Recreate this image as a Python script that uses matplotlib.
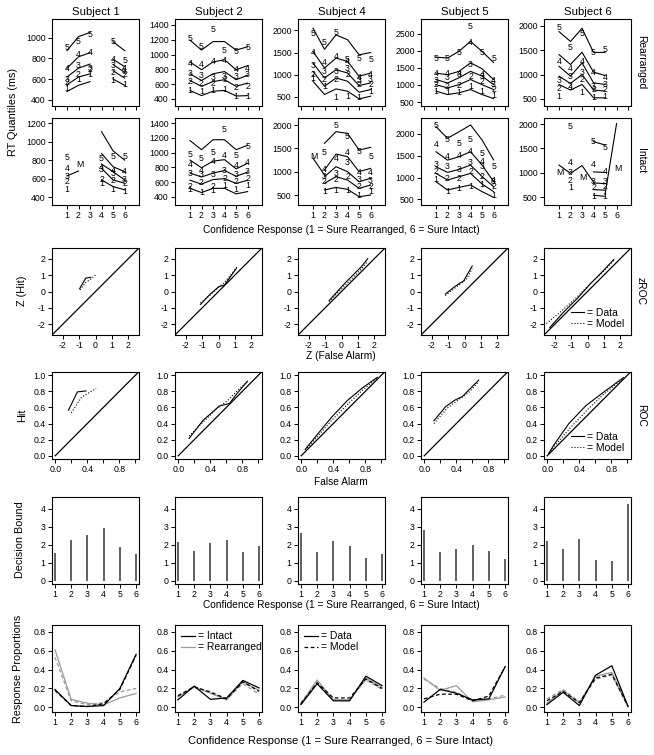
import numpy as np
import matplotlib.pyplot as plt
from matplotlib.lines import Line2D

plt.rcParams['font.family'] = ['Liberation Sans', 'DejaVu Sans']
plt.rcParams['axes.unicode_minus'] = False

nan = np.nan
subjects = ['Subject 1', 'Subject 2', 'Subject 4', 'Subject 5', 'Subject 6']
responses = [1, 2, 3, 4, 5, 6]

# RT quantiles (ms): rows = quantile 1..5, columns = confidence response 1..6
s1_rear_model = [[480, 540, 575, nan, 600, 540], [545, 620, 650, nan, 680, 610],
                 [620, 705, 745, nan, 740, 665], [705, 815, 855, nan, 790, 720],
                 [875, 1010, 1050, nan, 960, 875]]
s1_rear_data = [[510, 595, 640, nan, 583, 545], [570, 640, 690, nan, 663, 640],
                [600, 730, 705, nan, 727, 673], [705, 840, 855, nan, 791, 705],
                [905, 965, 1030, nan, 958, 775]]
s1_int_model = [[nan, nan, nan, 586, 514, 479], [nan, nan, nan, 711, 586, 550],
                [nan, nan, nan, 757, 675, 586], [nan, nan, nan, 871, 729, 675],
                [nan, nan, nan, 1107, 900, 800]]
s1_int_data = [[479, nan, nan, 550, 486, 461], [568, nan, nan, 590, 579, 550],
               [620, nan, nan, 700, 657, 586], [711, nan, nan, 715, 693, 675],
               [829, nan, nan, 818, 836, 836]]

s2_rear_model = [[515, 445, 505, 515, 440, 445], [650, 570, 635, 660, 570, 615],
                 [740, 650, 740, 770, 660, 720], [900, 795, 900, 930, 795, 850],
                 [1195, 1060, 1175, 1175, 1060, 1105]]
s2_rear_data = [[515, 500, 515, 525, 440, 440], [640, 605, 612, 660, 550, 570],
                [745, 720, 695, 705, 705, 730], [885, 868, 905, 923, 800, 818],
                [1213, 1110, 1332, 1060, 1036, 1100]]
s2_int_model = [[516, 459, 516, 516, 441, 472], [626, 573, 635, 648, 582, 626],
                [723, 670, 723, 758, 680, 736], [900, 795, 885, 905, 780, 855],
                [1165, 1040, 1175, 1175, 1040, 1100]]
s2_int_data = [[494, 459, 481, 560, 494, 560], [547, 591, 547, 650, 604, 648],
               [720, 700, 700, 760, 700, 740], [835, 760, 880, 960, 820, 860],
               [980, 915, 1000, 1310, 960, 1090]]

s4_rear_model = [[850, 550, 677, 625, 452, 512], [1075, 737, 925, 850, 602, 662],
                 [1262, 925, 1112, 1037, 752, 812], [1525, 1150, 1375, 1300, 962, 1037],
                 [2052, 1575, 1900, 1790, 1450, 1500]]
s4_rear_data = [[905, 737, 475, 500, 475, 625], [1000, 887, 887, 1000, 775, 775],
                [1200, 1075, 1075, 1150, 870, 887], [1510, 1285, 1400, 1300, 925, 1000],
                [1925, 1725, 1955, 1350, 1375, 1350]]
s4_int_model = [[nan, 607, 664, 621, 464, 500], [nan, 750, 893, 821, 643, 714],
                [nan, 893, 1107, 1000, 785, 857], [nan, 1035, 1378, 1321, 1000, 1071],
                [nan, 1607, 1857, 1821, 1464, 1521]]
s4_int_data = [[nan, 571, 607, 607, 500, 571], [nan, 786, 843, 893, 693, 679],
               [nan, 907, 964, 1200, 843, 821], [nan, 1050, 1285, 1407, 986, 986],
               [nan, 1414, 1986, 1764, 1429, 1321]]

s5_rear_model = [[820, 720, 770, 865, 720, 600], [1010, 915, 1010, 1160, 1010, 865],
                 [1160, 1060, 1210, 1400, 1260, 1010], [1350, 1300, 1400, 1650, 1475, 1160],
                 [1820, 1790, 1990, 2280, 1985, 1660]]
s5_rear_data = [[820, 770, 770, 965, 820, 690], [1010, 965, 985, 1260, 1110, 865],
                [1140, 1210, 1300, 1600, 1260, 1010], [1350, 1350, 1350, 2260, 1300, 1130],
                [1790, 1790, 1940, 2730, 1940, 1765]]
s5_int_model = [[905, 714, 775, 829, 676, 546], [1095, 943, 1019, 1095, 851, 676],
                [1248, 1118, 1187, 1286, 1023, 790], [1592, 1400, 1477, 1592, 1286, 905],
                [2168, 1900, 2050, 2206, 1862, 1404]]
s5_int_data = [[947, 676, 752, 790, 829, 584], [1138, 985, 985, 1138, 1023, 790],
               [1290, 1248, 1187, 1339, 1248, 905], [1748, 1477, 1515, 1592, 1362, 943],
               [2183, 1878, 1786, 1862, 1553, 1248]]

s6_rear_model = [[795, 680, 795, 520, 520, nan], [966, 816, 1000, 680, 660, nan],
                 [1170, 966, 1239, 830, 795, nan], [1411, 1207, 1459, 1050, 980, nan],
                 [1884, 1680, 1952, 1455, 1455, nan]]
s6_rear_data = [[541, 725, 630, 520, 541, nan], [705, 770, 898, 693, 693, nan],
                [884, 966, 1034, 748, 795, nan], [1275, 1116, 1275, 1034, 932, nan],
                [1973, 1565, 1850, 1455, 1523, nan]]
s6_int_model = [[nan, nan, nan, 542, 520, nan], [nan, nan, nan, 658, 645, nan],
                [nan, nan, nan, 795, 780, nan], [nan, nan, nan, 1020, 1010, nan],
                [nan, nan, nan, 1640, 1570, nan]]
s6_int_data = [[nan, 700, nan, 520, 509, nan], [nan, 850, nan, 700, 714, nan],
               [nan, 1000, nan, 830, 816, nan], [nan, 1205, nan, 1170, 1020, nan],
               [nan, 1945, nan, 1640, 1520, nan]]

# medians ("M") for sparse intact responses, and the model median lines
no_med = [nan] * 6
s1_int_med_data = [nan, 757, nan, nan, nan, nan]
s1_int_med_model = [629, 682, nan, nan, nan, nan]
s4_int_med_data = [1320, nan, nan, nan, nan, nan]
s4_int_med_model = [1290, 930, nan, nan, nan, nan]
s6_int_med_data = [1000, nan, 900, nan, nan, 1090]
s6_int_med_model = [1160, 990, 1150, 810, nan, nan]
s6_int_med_tail = [nan, nan, nan, nan, 560, 2010]

rear_model = [s1_rear_model, s2_rear_model, s4_rear_model, s5_rear_model, s6_rear_model]
rear_data = [s1_rear_data, s2_rear_data, s4_rear_data, s5_rear_data, s6_rear_data]
int_model = [s1_int_model, s2_int_model, s4_int_model, s5_int_model, s6_int_model]
int_data = [s1_int_data, s2_int_data, s4_int_data, s5_int_data, s6_int_data]
int_med_data = [s1_int_med_data, no_med, s4_int_med_data, no_med, s6_int_med_data]
int_med_model = [s1_int_med_model, no_med, s4_int_med_model, no_med, s6_int_med_model]
int_med_tail = [no_med, no_med, no_med, no_med, s6_int_med_tail]

rear_ylim = [(340, 1180), (305, 1480), (290, 2260), (383, 2937), (352, 2143)]
int_ylim = [(315, 1255), (290, 1470), (286, 2150), (370, 2366), (343, 2123)]
rear_yticks = [[400, 600, 800, 1000], [400, 600, 800, 1000, 1200, 1400],
               [500, 1000, 1500, 2000], [500, 1000, 1500, 2000, 2500], [500, 1000, 1500, 2000]]
int_yticks = [[400, 600, 800, 1000, 1200], [400, 600, 800, 1000, 1200, 1400],
              [500, 1000, 1500, 2000], [500, 1000, 1500, 2000], [500, 1000, 1500, 2000]]

# zROC and ROC points
zroc_fa_data = [[-0.97, -0.59, -0.29], [-1.1, -0.5, 0.03, 0.36, 0.61, 1.08],
                [-0.75, -0.3, 0.2, 0.7, 1.2, 1.6], [-1.17, -0.62, -0.3, -0.07, 0.47],
                [-2.3, -1.5, -0.6, 0.2, 0.9, 1.6]]
zroc_hit_data = [[0.17, 0.82, 0.86], [-0.79, -0.15, 0.3, 0.39, 0.74, 1.4],
                 [-0.55, -0.05, 0.5, 1.0, 1.5, 2.0], [-0.16, 0.28, 0.5, 0.62, 1.55],
                 [-2.2, -1.3, -0.4, 0.5, 1.2, 1.95]]
zroc_fa_model = [[-0.94, -0.6, -0.3, 0.0], [-1.1, -0.55, -0.03, 0.31, 0.64, 1.17],
                 [-0.75, -0.3, 0.2, 0.7, 1.2, 1.6], [-1.17, -0.56, -0.18, 0.13, 0.47],
                 [-2.5, -1.6, -0.7, 0.1, 0.9, 1.65]]
zroc_hit_model = [[0.1, 0.55, 0.75, 1.0], [-0.69, -0.25, 0.23, 0.5, 0.88, 1.55],
                  [-0.62, -0.14, 0.36, 0.86, 1.36, 1.85], [-0.25, 0.23, 0.52, 0.77, 1.4],
                  [-1.95, -1.2, -0.4, 0.4, 1.15, 1.95]]
roc_fa_data = [[0.165, 0.277, 0.385], [0.136, 0.31, 0.51, 0.64, 0.73, 0.86],
               [0.05, 0.23, 0.38, 0.58, 0.76, 0.95], [0.121, 0.266, 0.38, 0.473, 0.68],
               [0.02, 0.08, 0.27, 0.48, 0.69, 0.95]]
roc_hit_data = [[0.566, 0.793, 0.805], [0.215, 0.44, 0.616, 0.65, 0.77, 0.92],
                [0.08, 0.3, 0.48, 0.69, 0.84, 0.975], [0.435, 0.609, 0.69, 0.733, 0.94],
                [0.03, 0.13, 0.40, 0.62, 0.78, 0.97]]
roc_fa_model = [[0.2, 0.33, 0.51], [0.136, 0.29, 0.49, 0.62, 0.74, 0.88],
                [0.05, 0.23, 0.38, 0.58, 0.76, 0.95], [0.121, 0.286, 0.43, 0.55, 0.68],
                [0.02, 0.09, 0.29, 0.5, 0.7, 0.95]]
roc_hit_model = [[0.533, 0.73, 0.835], [0.244, 0.40, 0.59, 0.69, 0.81, 0.94],
                 [0.07, 0.27, 0.44, 0.64, 0.81, 0.965], [0.40, 0.59, 0.70, 0.78, 0.92],
                 [0.03, 0.12, 0.35, 0.57, 0.76, 0.96]]

# decision bounds per confidence response
bounds = [[1.55, 2.25, 2.55, 2.9, 1.9, 1.5],
          [2.15, 1.65, 2.1, 2.25, 1.58, 1.95],
          [2.65, 1.6, 2.2, 1.95, 1.25, 1.5],
          [2.8, 1.62, 1.77, 2.0, 1.65, 1.22],
          [2.23, 1.77, 2.33, 1.17, 1.08, 4.25]]

# response proportions
rp_int_data = [[0.19, 0.02, 0.01, 0.02, 0.2, 0.56], [0.08, 0.226, 0.086, 0.10, 0.285, 0.206],
               [0.03, 0.25, 0.07, 0.07, 0.33, 0.23], [0.055, 0.19, 0.15, 0.08, 0.09, 0.43],
               [0.03, 0.16, 0.02, 0.34, 0.44, 0.01]]
rp_int_model = [[0.18, 0.02, 0.01, 0.04, 0.19, 0.55], [0.12, 0.22, 0.16, 0.09, 0.27, 0.17],
                [0.04, 0.26, 0.10, 0.10, 0.30, 0.20], [0.09, 0.14, 0.14, 0.07, 0.12, 0.43],
                [0.07, 0.17, 0.05, 0.31, 0.35, 0.01]]
rp_rear_data = [[0.61, 0.086, 0.045, 0.027, 0.10, 0.148], [0.11, 0.216, 0.15, 0.08, 0.27, 0.18],
                [0.04, 0.29, 0.08, 0.08, 0.31, 0.21], [0.31, 0.18, 0.23, 0.06, 0.08, 0.11],
                [0.045, 0.18, 0.05, 0.33, 0.37, 0.01]]
rp_rear_model = [[0.53, 0.07, 0.03, 0.05, 0.165, 0.2], [0.13, 0.21, 0.17, 0.09, 0.25, 0.14],
                 [0.05, 0.27, 0.08, 0.08, 0.29, 0.19], [0.30, 0.20, 0.16, 0.07, 0.09, 0.13],
                 [0.09, 0.19, 0.06, 0.30, 0.34, 0.01]]

W, H = 654, 755
fig = plt.figure(figsize=(W / 100, H / 100), dpi=100)
col_left = [52, 175, 298, 421, 544]
row_top = [19, 118, 248, 372, 497, 625]
SZ = 87
TICK = 6.3
GREY = '#9a9a9a'
DASH = (0, (3, 2))
LEG = dict(frameon=False, fontsize=7.5, handlelength=1.3, handletextpad=0.3,
           labelspacing=0.1, borderaxespad=0.2)


def add_ax(c, r):
    ax = fig.add_axes([col_left[c] / W, 1 - (row_top[r] + SZ) / H, SZ / W, SZ / H])
    ax.tick_params(direction='out', length=3, width=0.7, labelsize=TICK, pad=1.5)
    for s in ax.spines.values():
        s.set_linewidth(0.8)
    return ax


def rt_panel(ax, model, data, ylim, yticks, labels, med_data=no_med, med_model=no_med, tail=no_med):
    for q in range(5):
        ax.plot(responses, model[q], color='k', lw=0.8)
        for x, y in zip(responses, data[q]):
            if not np.isnan(y):
                ax.text(x, y, str(q + 1), ha='center', va='center', fontsize=6.3)
    ax.plot(responses, med_model, color='k', lw=0.8)
    ax.plot(responses, tail, color='k', lw=0.8)
    for x, y in zip(responses, med_data):
        if not np.isnan(y):
            ax.text(x + 0.1, y, 'M', ha='center', va='center', fontsize=6.3)
    ax.set_xlim(-0.3, 7.25)
    ax.set_ylim(*ylim)
    ax.set_yticks(yticks)
    if labels:
        ax.set_xticks(responses)
    else:
        ax.set_xticks(range(8))
        ax.set_xticklabels([])


zroc_leg = [Line2D([], [], color='k', lw=0.8), Line2D([], [], color='k', lw=0.8, ls=':')]

for c in range(5):
    # RT quantiles
    ax = add_ax(c, 0)
    rt_panel(ax, rear_model[c], rear_data[c], rear_ylim[c], rear_yticks[c], False)
    ax.set_title(subjects[c], fontsize=8.2, pad=3)
    ax = add_ax(c, 1)
    rt_panel(ax, int_model[c], int_data[c], int_ylim[c], int_yticks[c], True,
             int_med_data[c], int_med_model[c], int_med_tail[c])

    # zROC
    ax = add_ax(c, 2)
    lim = 2.65
    ax.plot([-lim, lim], [-lim, lim], color='k', lw=0.9)
    ax.plot(zroc_fa_data[c], zroc_hit_data[c], color='k', lw=0.8)
    ax.plot(zroc_fa_model[c], zroc_hit_model[c], color='k', lw=0.8, ls=':')
    ax.set_xlim(-lim, lim)
    ax.set_ylim(-lim, lim)
    ax.set_xticks([-2, -1, 0, 1, 2])
    ax.set_yticks([-2, -1, 0, 1, 2])
    if c == 4:
        ax.legend(zroc_leg, ['= Data', '= Model'], loc='lower right', **LEG)

    # ROC
    ax = add_ax(c, 3)
    ax.plot([0, 1.05], [0, 1.05], color='k', lw=0.9)
    ax.plot(roc_fa_data[c], roc_hit_data[c], color='k', lw=0.8)
    ax.plot(roc_fa_model[c], roc_hit_model[c], color='k', lw=0.8, ls=':')
    ax.set_xlim(-0.04, 1.045)
    ax.set_ylim(-0.04, 1.04)
    ax.set_xticks([0, 0.2, 0.4, 0.6, 0.8, 1.0])
    ax.set_xticklabels(['0.0', '', '0.4', '', '0.8', ''])
    ax.set_yticks([0, 0.2, 0.4, 0.6, 0.8, 1.0])
    ax.set_yticklabels(['0.0', '0.2', '0.4', '0.6', '0.8', '1.0'])
    if c == 4:
        ax.legend(zroc_leg, ['= Data', '= Model'], loc='lower right', **LEG)

    # decision bounds
    ax = add_ax(c, 4)
    ax.vlines(responses, 0, bounds[c], color='#444444', lw=1.2)
    ax.set_xlim(0.82, 6.18)
    ax.set_ylim(-0.17, 4.64)
    ax.set_xticks(responses)
    ax.set_yticks([0, 1, 2, 3, 4])

    # response proportions
    ax = add_ax(c, 5)
    ax.plot(responses, rp_rear_data[c], color=GREY, lw=0.9)
    ax.plot(responses, rp_rear_model[c], color=GREY, lw=0.9, ls=DASH)
    ax.plot(responses, rp_int_data[c], color='k', lw=0.9)
    ax.plot(responses, rp_int_model[c], color='k', lw=0.9, ls=DASH)
    ax.set_xlim(0.82, 6.18)
    ax.set_ylim(-0.048, 0.87)
    ax.set_xticks(responses)
    ax.set_yticks([0, 0.2, 0.4, 0.6, 0.8])
    ax.set_yticklabels(['0.0', '0.2', '0.4', '0.6', '0.8'])
    if c == 1:
        h = [Line2D([], [], color='k', lw=0.9), Line2D([], [], color=GREY, lw=0.9)]
        ax.legend(h, ['= Intact', '= Rearranged'], loc='upper left', **LEG)
    if c == 2:
        h = [Line2D([], [], color='k', lw=0.9), Line2D([], [], color='k', lw=0.9, ls=DASH)]
        ax.legend(h, ['= Data', '= Model'], loc='upper left', **LEG)


def ftext(x, y, s, **kw):
    fig.text(x / W, 1 - y / H, s, ha='center', va='center', **kw)


ftext(13, 112, 'RT Quantiles (ms)', rotation=90, fontsize=7.8)
ftext(22, 291, 'Z (Hit)', rotation=90, fontsize=7.8)
ftext(22, 415, 'Hit', rotation=90, fontsize=7.8)
ftext(20, 540, 'Decision Bound', rotation=90, fontsize=7.8)
ftext(18, 669, 'Response Proportions', rotation=90, fontsize=7.8)
ftext(641, 62, 'Rearranged', rotation=270, fontsize=7.4)
ftext(641, 161, 'Intact', rotation=270, fontsize=7.4)
ftext(641, 291, 'zROC', rotation=270, fontsize=7.4)
ftext(641, 415, 'ROC', rotation=270, fontsize=7.4)
ftext(341, 230, 'Confidence Response (1 = Sure Rearranged, 6 = Sure Intact)', fontsize=7.3)
ftext(341, 356, 'Z (False Alarm)', fontsize=7.3)
ftext(341, 482, 'False Alarm', fontsize=7.3)
ftext(341, 605, 'Confidence Response (1 = Sure Rearranged, 6 = Sure Intact)', fontsize=7.3)
ftext(341, 741, 'Confidence Response (1 = Sure Rearranged, 6 = Sure Intact)', fontsize=8)

fig.savefig('out.png', dpi=100)
